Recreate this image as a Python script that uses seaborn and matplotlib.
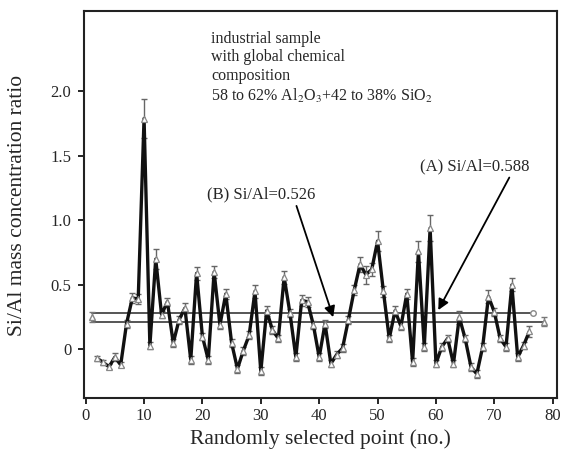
import numpy as np
import pandas as pd
import seaborn as sns
import matplotlib
matplotlib.use("Agg")
import matplotlib.pyplot as plt

points = list(range(2, 77))
ratio = [-0.07, -0.10, -0.135, -0.06, -0.12, 0.20, 0.40, 0.39, 1.79, 0.03,
         0.70, 0.27, 0.37, 0.05, 0.23, 0.32, -0.08, 0.59, 0.10, -0.08,
         0.60, 0.19, 0.43, 0.05, -0.15, -0.01, 0.11, 0.45, -0.17, 0.30,
         0.15, 0.085, 0.56, 0.28, -0.06, 0.38, 0.37, 0.19, -0.06, 0.20,
         -0.11, -0.04, 0.01, 0.23, 0.46, 0.66, 0.58, 0.62, 0.84, 0.45,
         0.085, 0.30, 0.18, 0.43, -0.10, 0.76, 0.02, 0.94, -0.11, 0.02,
         0.085, -0.11, 0.25, 0.085, -0.135, -0.19, 0.02, 0.41, 0.29, 0.085,
         0.02, 0.50, -0.06, 0.03, 0.14]
err = [0.02, 0.02, 0.02, 0.03, 0.02, 0.03, 0.04, 0.04, 0.15, 0.03,
       0.08, 0.03, 0.03, 0.03, 0.03, 0.04, 0.03, 0.05, 0.03, 0.03,
       0.05, 0.03, 0.04, 0.03, 0.03, 0.03, 0.03, 0.05, 0.03, 0.04,
       0.03, 0.03, 0.05, 0.03, 0.03, 0.04, 0.04, 0.03, 0.03, 0.03,
       0.03, 0.03, 0.03, 0.03, 0.04, 0.06, 0.07, 0.05, 0.08, 0.04,
       0.03, 0.04, 0.03, 0.04, 0.03, 0.08, 0.03, 0.10, 0.03, 0.03,
       0.03, 0.03, 0.05, 0.03, 0.03, 0.03, 0.03, 0.05, 0.03, 0.03,
       0.03, 0.05, 0.03, 0.03, 0.04]

# reference levels (A) and (B)
level_A = 0.285
level_B = 0.215
level_A_x = [1, 76.7]
level_B_x = [1, 78.5]

df = pd.DataFrame({"point": points, "ratio": ratio, "err": err})

sns.set_theme(style="ticks")
plt.rcParams["font.family"] = ["Liberation Serif", "DejaVu Serif"]
plt.rcParams["mathtext.fontset"] = "stix"

fig, ax = plt.subplots(figsize=(5.67, 4.58), dpi=100)
fig.subplots_adjust(left=0.148, right=0.982, top=0.975, bottom=0.13)

# horizontal reference lines
ax.plot(level_A_x, [level_A, level_A], color="#555555", lw=1.4, zorder=1)
ax.plot(level_A_x[1], level_A, "o", ms=4, mfc="white", mec="#888888", zorder=2)
ax.plot(level_B_x, [level_B, level_B], color="#555555", lw=1.4, zorder=1)
ax.errorbar([level_A_x[0]], [(level_A + level_B) / 2], yerr=0.037, fmt="^",
            ms=4, mfc="white", mec="#888888", ecolor="#777777", capsize=2.5,
            lw=1, zorder=2)
ax.errorbar([level_B_x[1]], [level_B], yerr=0.035, fmt="^",
            ms=4, mfc="white", mec="#888888", ecolor="#777777", capsize=2.5,
            lw=1, zorder=2)

# measured series
ax.errorbar(df["point"], df["ratio"], yerr=df["err"], fmt="none",
            ecolor="#666666", capsize=2.5, elinewidth=1, zorder=3)
sns.lineplot(data=df, x="point", y="ratio", ax=ax, color="#111111", lw=2.4,
             marker="^", markersize=4.5, markerfacecolor="white",
             markeredgecolor="#888888", markeredgewidth=0.9, zorder=4)

ax.set_xlim(-0.3, 80.7)
ax.set_ylim(-0.38, 2.62)
ax.set_xticks([0, 10, 20, 30, 40, 50, 60, 70, 80])
ax.set_yticks([0, 0.5, 1.0, 1.5, 2.0])
ax.set_yticklabels(["0", "0.5", "1.0", "1.5", "2.0"])
ax.tick_params(labelsize=12, length=4, width=1.2, color="black")
ax.tick_params(axis="x", pad=3)
ax.tick_params(axis="y", pad=5)
for s in ax.spines.values():
    s.set_linewidth(1.5)
    s.set_color("#222222")
    s.set_visible(True)

ax.set_xlabel("Randomly selected point (no.)", fontsize=15.5, labelpad=4)
ax.set_ylabel("Si/Al mass concentration ratio", fontsize=15.5, labelpad=17)

ax.text(21.5, 2.47, "industrial sample\nwith global chemical\ncomposition\n"
        r"58 to 62% Al$_2$O$_3$+42 to 38% SiO$_2$",
        fontsize=11.5, va="top", ha="left", linespacing=1.2)

ax.annotate("(B) Si/Al=0.526", xy=(42.4, 0.25), xytext=(20.7, 1.2),
            fontsize=12, va="center", ha="left",
            arrowprops=dict(arrowstyle="-|>", color="black", lw=1.3,
                            mutation_scale=16, shrinkA=0, shrinkB=0,
                            relpos=(0.82, 0.0)))
ax.annotate("(A) Si/Al=0.588", xy=(60.4, 0.305), xytext=(57.3, 1.42),
            fontsize=12, va="center", ha="left",
            arrowprops=dict(arrowstyle="-|>", color="black", lw=1.3,
                            mutation_scale=16, shrinkA=0, shrinkB=0,
                            relpos=(0.83, 0.0)))

plt.savefig("out.png", dpi=100)
